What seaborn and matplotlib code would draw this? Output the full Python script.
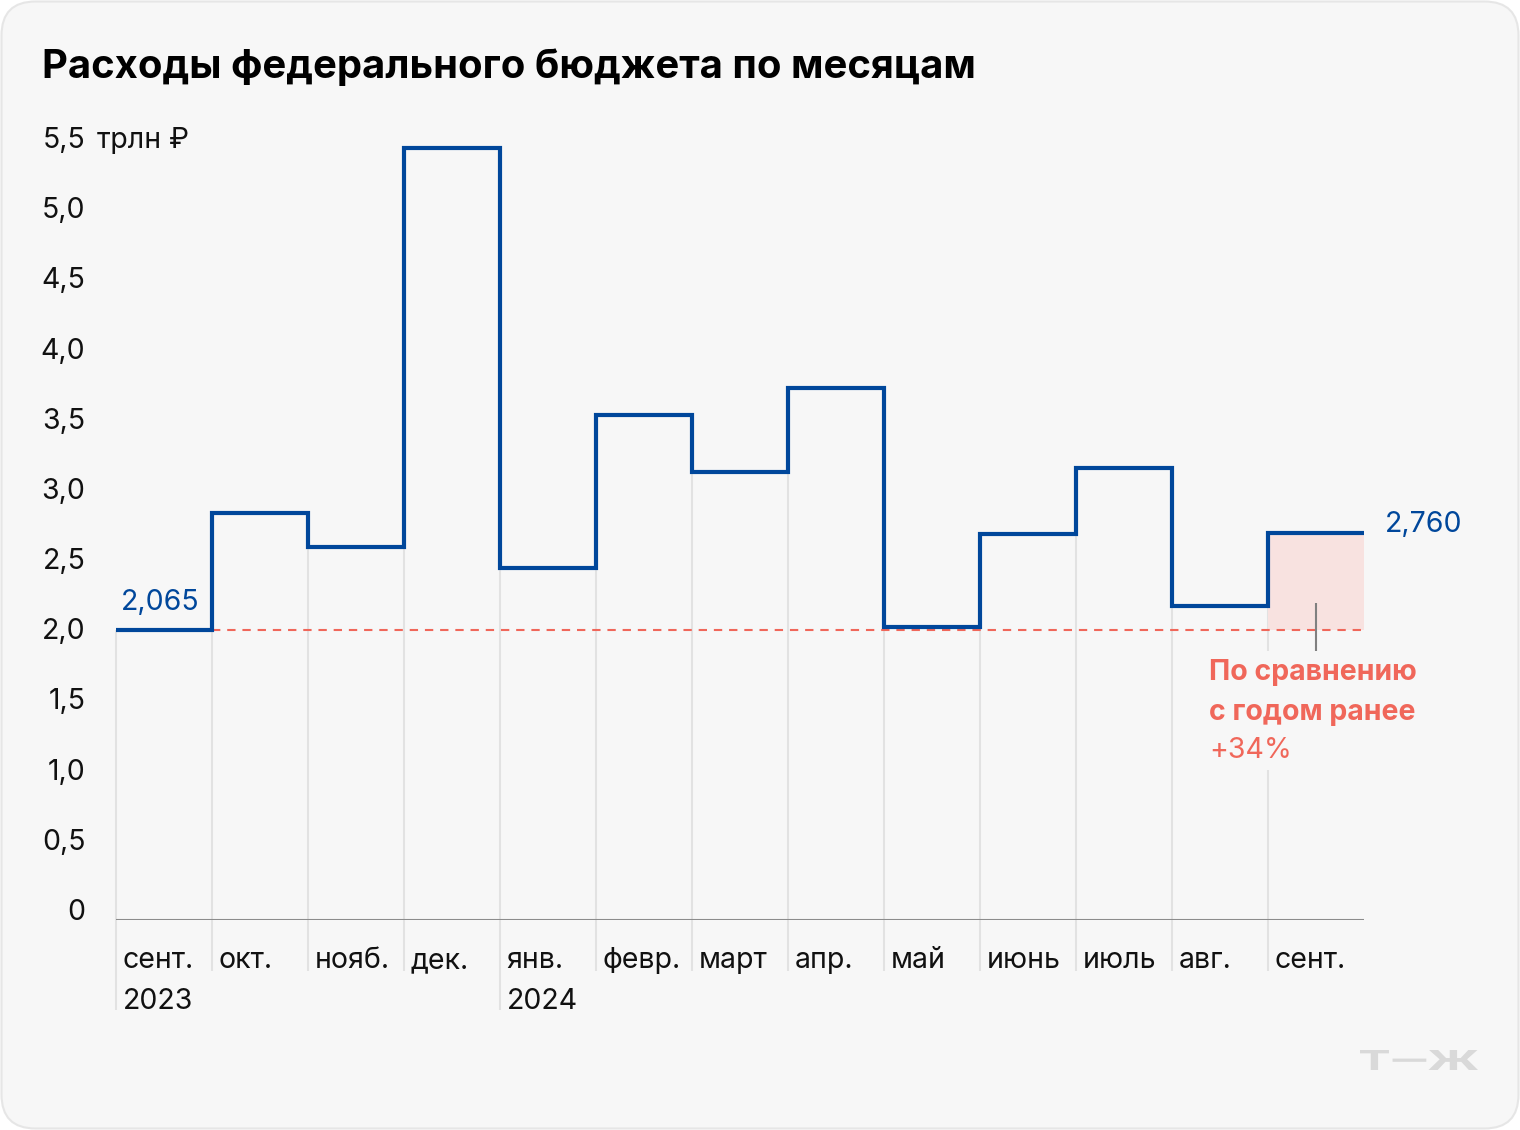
import matplotlib
matplotlib.use("Agg")
import matplotlib.pyplot as plt
import matplotlib.transforms as mtransforms
from matplotlib.patches import FancyBboxPatch, Rectangle, PathPatch
from matplotlib.textpath import TextPath
from matplotlib.font_manager import FontProperties
import seaborn as sns
import pandas as pd

# ---- data ----
months = ["сент.", "окт.", "нояб.", "дек.", "янв.", "февр.", "март",
          "апр.", "май", "июнь", "июль", "авг.", "сент."]
years = {0: "2023", 4: "2024"}
spending = [2.065, 2.90, 2.66, 5.50, 2.51, 3.60, 3.19, 3.79, 2.09, 2.75, 3.22, 2.24, 2.76]
ytick_vals = [0, 0.5, 1.0, 1.5, 2.0, 2.5, 3.0, 3.5, 4.0, 4.5, 5.0, 5.5]
ytick_labels = ["0", "0,5", "1,0", "1,5", "2,0", "2,5", "3,0", "3,5", "4,0", "4,5", "5,0", "5,5"]
title = "Расходы федерального бюджета по месяцам"
unit = "трлн ₽"
first_label = "2,065"
last_label = "2,760"
note_lines = ["По сравнению", "с годом ранее"]
note_pct = "+34%"

BLUE = "#00479b"
RED = "#f0675a"
PINK = "#f8e2e0"
GRID = "#e2e2e2"
TXT = "#111111"
FONT = ["Inter", "Roboto", "DejaVu Sans"]

sns.set_style("white")
plt.rcParams["font.family"] = FONT

W, H = 1520, 1130
fig = plt.figure(figsize=(W / 100, H / 100), dpi=100)
fig.patch.set_facecolor("white")

card = FancyBboxPatch((1.5, 1.5), W - 3, H - 3,
                      boxstyle="round,pad=0,rounding_size=34",
                      transform=mtransforms.IdentityTransform(),
                      facecolor="#f7f7f7", edgecolor="#e6e6e6", linewidth=1.5,
                      zorder=-10)
fig.patches.append(card)

ax = fig.add_axes([116 / W, 210 / H, 1248 / W, 786 / H])
ax.set_facecolor("none")
ax.set_zorder(5)
for s in ax.spines.values():
    s.set_visible(False)

n = len(spending)
# vertical separators below the step
for i in range(n):
    top = spending[0] if i == 0 else min(spending[i - 1], spending[i])
    bottom = -0.64 if i in years else -0.36
    if i == n - 1:
        ax.vlines(i, bottom, 1.07, color=GRID, lw=1.5, clip_on=False, zorder=1)
        ax.vlines(i, 1.92, top, color=GRID, lw=1.5, clip_on=False, zorder=1)
    else:
        ax.vlines(i, bottom, top, color=GRID, lw=1.5, clip_on=False, zorder=1)

# pink comparison area
ax.add_patch(Rectangle((n - 1, spending[0]), 1, spending[-1] - spending[0],
                       facecolor=PINK, edgecolor="none", zorder=1))

# baseline
ax.hlines(0, 0, 13, color="#8c8c8c", lw=1.5, zorder=2)
# dashed reference line
ax.hlines(spending[0], 1, 13, color=RED, lw=1.5, linestyles=(0, (4, 3.3)), zorder=2)

# step line
df = pd.DataFrame({"x": list(range(n + 1)), "y": spending + [spending[-1]]})
sns.lineplot(data=df, x="x", y="y", drawstyle="steps-post", color=BLUE,
             lw=3, ax=ax, zorder=4, solid_joinstyle="miter")
ax.set_xlabel("")
ax.set_ylabel("")
ax.set_xticks([])
ax.set_yticks([])
ax.set_xlim(0, 13)
ax.set_ylim(0, 5.6)

# small tick for annotation
ax.vlines(n - 0.5, 1.92, 2.26, color="#808080", lw=1.5, zorder=3)

FS = 20.5
# y labels
for v, lab in zip(ytick_vals, ytick_labels):
    ax.text(-0.32, v, lab, ha="right", va="baseline", fontsize=FS,
            color=TXT, clip_on=False)
ax.text(-0.2, ytick_vals[-1], unit, ha="left", va="baseline", fontsize=FS,
        color=TXT, clip_on=False)

# x labels
for i, m in enumerate(months):
    ax.text(i + 0.07, -0.345, m, ha="left", va="baseline", fontsize=FS,
            color=TXT, clip_on=False)
for i, y in years.items():
    ax.text(i + 0.07, -0.635, y, ha="left", va="baseline", fontsize=FS,
            color=TXT, clip_on=False)

# value labels
ax.text(0.05, spending[0] + 0.143, first_label, ha="left", va="baseline",
        fontsize=FS, color=BLUE)
ax.text(13.22, spending[-1] + 0.003, last_label, ha="left", va="baseline",
        fontsize=FS, color=BLUE, clip_on=False)

# annotation
ax.text(11.39, 1.709, note_lines[0], ha="left", va="baseline", fontsize=FS,
        fontweight="bold", color=RED)
ax.text(11.39, 1.425, note_lines[1], ha="left", va="baseline", fontsize=FS,
        fontweight="bold", color=RED)
ax.text(11.39, 1.154, note_pct, ha="left", va="baseline", fontsize=FS, color=RED)

# title
fig.text(42 / W, 1 - 78 / H, title, ha="left", va="baseline", fontsize=28.8,
         fontweight="bold", color="#000000")

# watermark (stretched wide glyphs)
tp = TextPath((0, 0), "Т—Ж", size=20,
              prop=FontProperties(family=["Roboto", "DejaVu Sans"], weight="bold"))
ext = tp.get_extents()
sx = 118 / ext.width
sy = 20 / ext.height
tr = (mtransforms.Affine2D().translate(-ext.x0, -ext.y0).scale(sx, sy)
      .translate(1360, H - 1070))
fig.patches.append(PathPatch(tp, transform=tr, facecolor="#d9d9d9",
                             edgecolor="none", zorder=-5))

fig.savefig("out.png", dpi=100, facecolor="white")
